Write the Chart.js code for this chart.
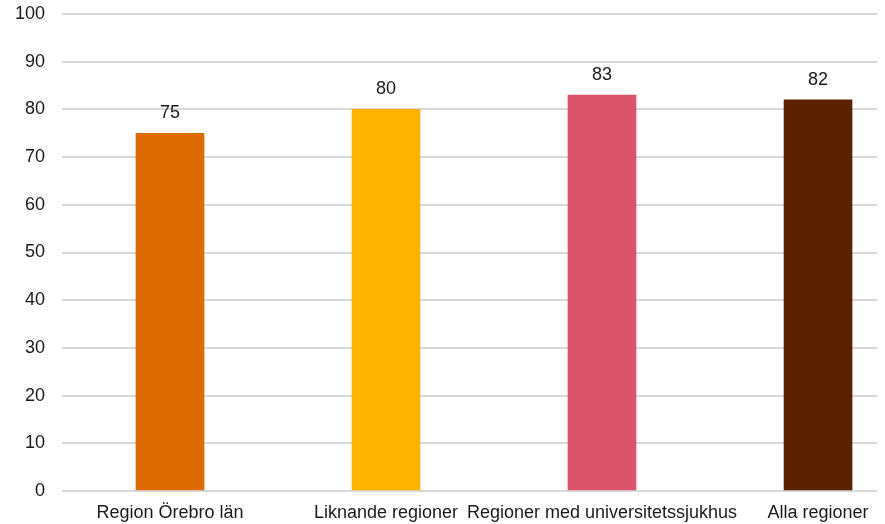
<!DOCTYPE html>
<html>
<head>
<meta charset="utf-8">
<script src="https://cdn.jsdelivr.net/npm/chart.js@4/dist/chart.umd.min.js"></script>
<style>
  html, body { margin: 0; padding: 0; background: #fff; }
  #wrap { width: 885px; height: 524px; }
</style>
</head>
<body>
<div id="wrap"><canvas id="c" width="885" height="524"></canvas></div>
<script>
// Categories and values
const categories = ['Region Örebro län', 'Liknande regioner', 'Regioner med universitetssjukhus', 'Alla regioner'];
const values = [75, 80, 83, 82];
const barColors = ['#DD6A00', '#FFB500', '#DC546C', '#5A2100'];
const yTicks = [0, 10, 20, 30, 40, 50, 60, 70, 80, 90, 100];

const FONT = '"Liberation Sans", Arial, sans-serif';
const FONT_SIZE = 18;
const TEXT = '#1a1a1a';

const points = values.map((v, i) => ({ x: i, y: v }));

// Value labels above each bar
const valueLabels = {
  id: 'valueLabels',
  afterDatasetsDraw(chart) {
    const ctx = chart.ctx;
    const meta = chart.getDatasetMeta(0);
    ctx.save();
    ctx.font = FONT_SIZE + 'px ' + FONT;
    ctx.fillStyle = TEXT;
    ctx.textAlign = 'center';
    ctx.textBaseline = 'bottom';
    meta.data.forEach((bar, i) => {
      ctx.fillText(String(values[i]), bar.x, bar.y - 11);
    });
    ctx.restore();
  }
};

new Chart(document.getElementById('c'), {
  type: 'bar',
  data: {
    datasets: [{
      data: points,
      backgroundColor: barColors,
      barThickness: 68,
      borderWidth: 0
    }]
  },
  options: {
    responsive: false,
    animation: false,
    layout: { padding: { top: 14, right: 8, left: 0, bottom: 0 } },
    plugins: { legend: { display: false }, tooltip: { enabled: false } },
    scales: {
      x: {
        type: 'linear',
        offset: false,
        min: -0.5,
        max: 3.273,
        afterBuildTicks(scale) {
          scale.ticks = categories.map((_, i) => ({ value: i }));
        },
        afterFit(scale) {
          scale.height = 33;
          scale.paddingLeft = 0;
          scale.paddingRight = 0;
        },
        ticks: {
          autoSkip: false,
          maxRotation: 0,
          padding: 3,
          color: TEXT,
          font: { family: FONT, size: FONT_SIZE },
          callback: (v) => categories[v]
        },
        grid: { display: false },
        border: { display: false }
      },
      y: {
        min: 0,
        max: 100,
        afterBuildTicks(scale) {
          scale.ticks = yTicks.map(v => ({ value: v }));
        },
        afterFit(scale) {
          scale.width = 62;
          scale.paddingTop = 0;
          scale.paddingBottom = 0;
        },
        ticks: {
          padding: 17,
          color: TEXT,
          font: { family: FONT, size: FONT_SIZE }
        },
        grid: { color: '#d9d9d9', lineWidth: 2, drawTicks: false },
        border: { display: false }
      }
    }
  },
  plugins: [valueLabels]
});
</script>
</body>
</html>
